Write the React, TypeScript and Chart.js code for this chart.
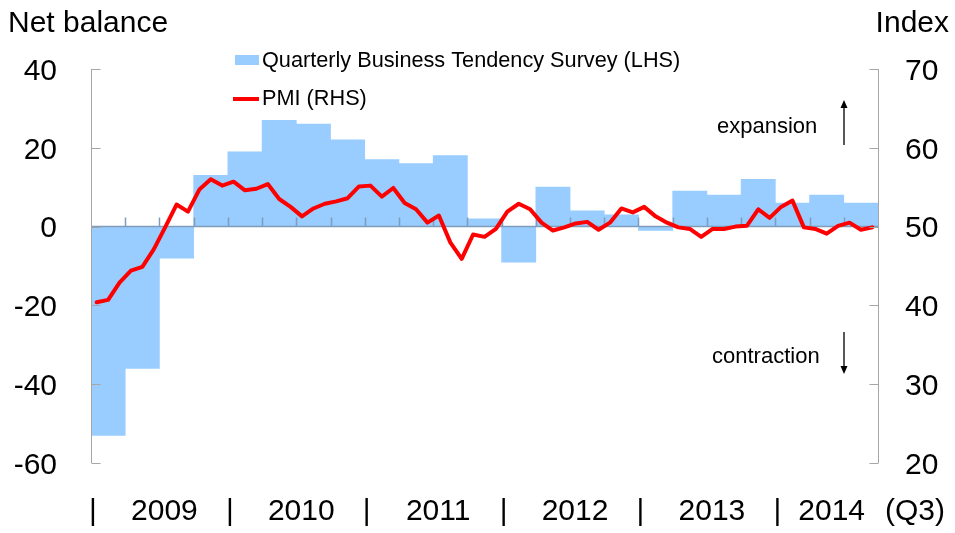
import React, { useEffect, useRef } from 'react';
import { Chart, registerables } from 'chart.js';

Chart.register(...registerables);

const FONT = '"Liberation Sans", Arial, Helvetica, sans-serif';

const quarterLabels = [
  '2009 Q1', '2009 Q2', '2009 Q3', '2009 Q4',
  '2010 Q1', '2010 Q2', '2010 Q3', '2010 Q4',
  '2011 Q1', '2011 Q2', '2011 Q3', '2011 Q4',
  '2012 Q1', '2012 Q2', '2012 Q3', '2012 Q4',
  '2013 Q1', '2013 Q2', '2013 Q3', '2013 Q4',
  '2014 Q1', '2014 Q2', '2014 Q3',
];

const qbtsValues = [
  -53, -36, -8, 13,
  19, 27, 26, 22,
  17, 16, 18, 2,
  -9, 10, 4, 3,
  -1, 9, 8, 12,
  6, 8, 6,
];

const monthNames = ['Jan', 'Feb', 'Mar', 'Apr', 'May', 'Jun', 'Jul', 'Aug', 'Sep', 'Oct', 'Nov', 'Dec'];
const monthYears = ['2009', '2010', '2011', '2012', '2013', '2014'];
const monthLabels: string[] = [];
monthYears.forEach((y) => monthNames.forEach((m) => monthLabels.push(m + ' ' + y)));
monthLabels.length = 69;

const pmiValues = [
  40.4, 40.7, 42.9, 44.4, 44.9, 47.1, 49.9, 52.8, 51.9, 54.7, 56.0, 55.2,
  55.7, 54.6, 54.8, 55.4, 53.5, 52.5, 51.3, 52.3, 52.9, 53.2, 53.6, 55.1,
  55.2, 53.8, 54.9, 53.0, 52.2, 50.5, 51.4, 48.0, 45.9, 49.0, 48.7, 49.7,
  51.9, 52.9, 52.2, 50.5, 49.5, 49.9, 50.4, 50.6, 49.6, 50.5, 52.3, 51.8,
  52.5, 51.3, 50.5, 49.9, 49.7, 48.7, 49.7, 49.7, 50.0, 50.1, 52.2, 51.1,
  52.5, 53.3, 49.9, 49.7, 49.1, 50.1, 50.5, 49.6, 49.9,
];

const yearLabels = ['2009', '2010', '2011', '2012', '2013', '2014'];
const yearStartQuarter = [0, 4, 8, 12, 16, 20];
const endNote = '(Q3)';
const leftTicks = [40, 20, 0, -20, -40, -60];
const rightTicks = [70, 60, 50, 40, 30, 20];
const leftTitle = 'Net balance';
const rightTitle = 'Index';
const barLabel = 'Quarterly Business Tendency Survey (LHS)';
const lineLabel = 'PMI (RHS)';
const upNote = 'expansion';
const downNote = 'contraction';

const BAR_COLOR = '#99ccff';
const LINE_COLOR = '#ff0000';
const AXIS_COLOR = '#a6a6a6';
const ZERO_COLOR = '#7f9cbb';

const decorPlugin = {
  id: 'decor',
  afterDatasetDraw(chart: any, args: any) {
    if (args.meta.type !== 'bar') return;
    const ctx = chart.ctx;
    const area = chart.chartArea;
    const yL = chart.scales.yL;
    const xq = chart.scales.xq;
    const y0 = yL.getPixelForValue(0);
    const w = xq.getPixelForValue(1) - xq.getPixelForValue(0);
    ctx.save();
    ctx.strokeStyle = ZERO_COLOR;
    ctx.lineWidth = 1.5;
    ctx.beginPath();
    ctx.moveTo(area.left, y0);
    ctx.lineTo(area.right, y0);
    for (let i = 1; i < quarterLabels.length; i++) {
      const x = Math.round(xq.getPixelForValue(i) - w / 2) + 0.5;
      ctx.moveTo(x, y0);
      ctx.lineTo(x, y0 - 9);
    }
    ctx.stroke();
    ctx.restore();
  },
  afterDraw(chart: any) {
    const ctx = chart.ctx;
    const area = chart.chartArea;
    const yL = chart.scales.yL;
    const yR = chart.scales.yR;
    const xq = chart.scales.xq;
    const w = xq.getPixelForValue(1) - xq.getPixelForValue(0);
    ctx.save();

    // axis lines
    ctx.strokeStyle = AXIS_COLOR;
    ctx.lineWidth = 1;
    const lx = Math.round(area.left) + 0.5;
    const rx = Math.round(area.right) + 0.5;
    ctx.beginPath();
    ctx.moveTo(lx, area.top);
    ctx.lineTo(lx, area.bottom);
    ctx.moveTo(rx, area.top);
    ctx.lineTo(rx, area.bottom);
    leftTicks.forEach((v) => {
      const y = Math.round(yL.getPixelForValue(v)) + 0.5;
      ctx.moveTo(lx, y);
      ctx.lineTo(lx + 9, y);
    });
    rightTicks.forEach((v) => {
      const y = Math.round(yR.getPixelForValue(v)) + 0.5;
      ctx.moveTo(rx, y);
      ctx.lineTo(rx - 9, y);
    });
    ctx.stroke();

    // tick labels
    ctx.fillStyle = '#000';
    ctx.font = `30px ${FONT}`;
    ctx.textBaseline = 'alphabetic';
    ctx.textAlign = 'right';
    leftTicks.forEach((v) => {
      ctx.fillText(String(v), 57, yL.getPixelForValue(v) + 10.7);
    });
    ctx.textAlign = 'left';
    rightTicks.forEach((v) => {
      ctx.fillText(String(v), 905, yR.getPixelForValue(v) + 10.7);
    });

    // titles
    ctx.textAlign = 'left';
    ctx.fillText(leftTitle, 8, 32);
    ctx.textAlign = 'right';
    ctx.fillText(rightTitle, 949, 32);

    // year row
    const baseY = 520;
    ctx.textAlign = 'center';
    yearStartQuarter.forEach((q, i) => {
      const bx = xq.getPixelForValue(q) - w / 2;
      ctx.fillText('|', bx + 2, baseY);
      const endQ = i + 1 < yearStartQuarter.length ? yearStartQuarter[i + 1] - 1 : quarterLabels.length - 1;
      const cx = (xq.getPixelForValue(q) + xq.getPixelForValue(endQ)) / 2;
      ctx.fillText(yearLabels[i], cx + 5, baseY);
    });
    ctx.textAlign = 'left';
    ctx.fillText(endNote, area.right + 7, baseY);

    // legend
    const ds = chart.data.datasets;
    ctx.fillStyle = BAR_COLOR;
    ctx.fillRect(235, 55, 24, 10);
    ctx.strokeStyle = LINE_COLOR;
    ctx.lineWidth = 4;
    ctx.beginPath();
    ctx.moveTo(233, 99);
    ctx.lineTo(259, 99);
    ctx.stroke();
    ctx.fillStyle = '#000';
    ctx.font = `21.7px ${FONT}`;
    ctx.textAlign = 'left';
    ctx.textBaseline = 'middle';
    ctx.fillText(ds[0].label, 262, 61);
    ctx.fillText(ds[1].label, 262, 99);

    // annotations
    ctx.font = `22px ${FONT}`;
    ctx.textBaseline = 'alphabetic';
    ctx.fillText(upNote, 717, 133);
    ctx.fillText(downNote, 712, 363);
    ctx.strokeStyle = '#000';
    ctx.fillStyle = '#000';
    ctx.lineWidth = 1.3;
    ctx.beginPath();
    ctx.moveTo(844, 106);
    ctx.lineTo(844, 145);
    ctx.moveTo(844, 332);
    ctx.lineTo(844, 367);
    ctx.stroke();
    ctx.beginPath();
    ctx.moveTo(844, 100);
    ctx.lineTo(840.5, 108);
    ctx.lineTo(847.5, 108);
    ctx.closePath();
    ctx.fill();
    ctx.beginPath();
    ctx.moveTo(844, 374);
    ctx.lineTo(840.5, 366);
    ctx.lineTo(847.5, 366);
    ctx.closePath();
    ctx.fill();

    ctx.restore();
  },
};

export default function App() {
  const canvasRef = useRef<HTMLCanvasElement | null>(null);

  useEffect(() => {
    const canvas = canvasRef.current;
    if (!canvas) return;
    const chart = new Chart(canvas, {
      type: 'bar',
      data: {
        labels: quarterLabels,
        datasets: [
          {
            type: 'bar',
            label: barLabel,
            data: qbtsValues,
            backgroundColor: BAR_COLOR,
            borderWidth: 0,
            barPercentage: 1,
            categoryPercentage: 1,
            grouped: false,
            xAxisID: 'xq',
            yAxisID: 'yL',
            order: 2,
          } as any,
          {
            type: 'line',
            label: lineLabel,
            data: pmiValues,
            borderColor: LINE_COLOR,
            backgroundColor: LINE_COLOR,
            borderWidth: 4,
            pointRadius: 0,
            tension: 0,
            borderJoinStyle: 'round',
            borderCapStyle: 'round',
            fill: false,
            xAxisID: 'xm',
            yAxisID: 'yR',
            order: 1,
          } as any,
        ],
      },
      options: {
        responsive: false,
        animation: false,
        layout: { padding: { left: 91, top: 69, right: 77, bottom: 70 } },
        plugins: { legend: { display: false }, tooltip: { enabled: false } },
        scales: {
          xq: { type: 'category', labels: quarterLabels, offset: true, display: false },
          xm: { type: 'category', labels: monthLabels, offset: true, display: false },
          yL: { type: 'linear', position: 'left', min: -60, max: 40, display: false },
          yR: { type: 'linear', position: 'right', min: 20, max: 70, display: false },
        },
      } as any,
      plugins: [decorPlugin],
    });
    return () => chart.destroy();
  }, []);

  return (
    <div style={{ position: 'fixed', left: 0, top: 0, width: 955, height: 533, background: '#fff' }}>
      <canvas ref={canvasRef} width={955} height={533} style={{ display: 'block' }} />
    </div>
  );
}
